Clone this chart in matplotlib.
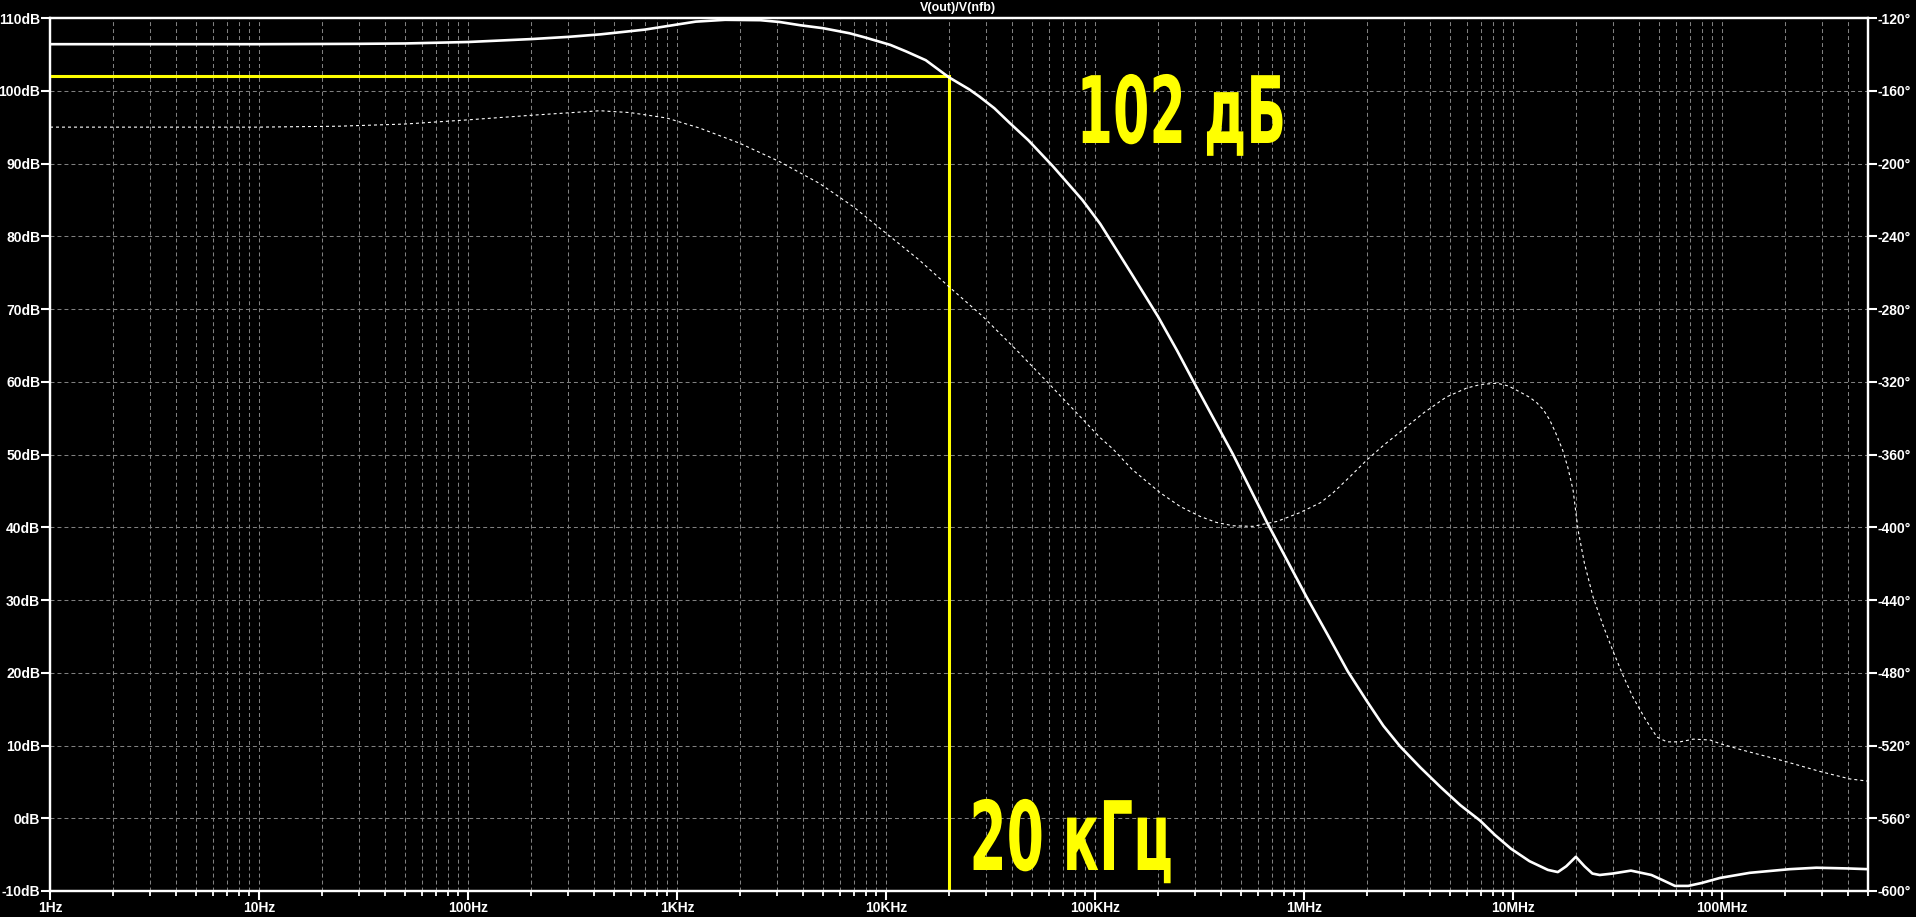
import matplotlib
matplotlib.use("Agg")
import matplotlib.pyplot as plt
from matplotlib.ticker import FixedLocator, FixedFormatter, LogLocator, NullFormatter
from matplotlib.patheffects import AbstractPathEffect
from matplotlib.transforms import Affine2D
from matplotlib.path import Path

# ---------------- data ----------------
title = "V(out)/V(nfb)"

mag_freq = [1, 10, 30, 50, 100, 200, 300, 430, 700, 1000, 1230, 1700, 2500, 3100, 3900,
            5000, 6700, 8000, 10500, 12500, 15500, 20000, 25000, 28000, 33000, 39000,
            48000, 63000, 87000, 106000, 150000, 200000, 247000, 294000, 458000,
            673000, 1.03e6, 1.3e6, 1.62e6, 2e6, 2.4e6, 2.88e6, 3.6e6, 4.5e6, 5.6e6,
            6.95e6, 8.2e6, 9.8e6, 12e6, 14.7e6, 16.4e6, 18e6, 20e6, 22e6, 24e6, 26e6,
            30e6, 36.7e6, 46e6, 52e6, 59.6e6, 69e6, 80e6, 98e6, 136e6, 211e6, 283e6,
            400e6, 500e6]
mag_db = [106.4, 106.4, 106.45, 106.5, 106.7, 107.1, 107.4, 107.75, 108.4, 109.1,
          109.5, 109.75, 109.7, 109.45, 109.0, 108.6, 107.9, 107.3, 106.3, 105.4,
          104.2, 101.85, 100.2, 99.2, 97.6, 95.6, 93.2, 89.6, 85.0, 81.7, 74.8,
          69.0, 64.3, 60.2, 50.0, 40.4, 30.4, 25.2, 20.2, 16.1, 12.7, 9.9, 7.0, 4.3,
          1.8, -0.3, -2.3, -4.2, -5.9, -7.1, -7.4, -6.6, -5.3, -6.6, -7.6, -7.8,
          -7.6, -7.2, -7.8, -8.5, -9.3, -9.3, -8.9, -8.2, -7.5, -7.0, -6.8, -6.9,
          -7.0]

phase_freq = [1, 10, 24, 50, 100, 200, 428, 596, 895, 1290, 2000, 3100, 4800, 6950,
              10000, 14400, 20000, 29000, 42000, 59000, 80000, 106000, 122000, 150000,
              205000, 255000, 318000, 380000, 458000, 570000, 743000, 955000, 1.2e6,
              1.38e6, 1.65e6, 2e6, 2.4e6, 2.93e6, 3.75e6, 4.8e6, 6e6, 7e6, 8.4e6,
              9.5e6, 10.8e6, 12e6, 13e6, 14e6, 15e6, 16e6, 17.3e6, 18.3e6, 19.4e6,
              20.5e6, 22e6, 24.2e6, 27e6, 30e6, 33.5e6, 37.5e6, 43e6, 48.9e6, 54.6e6,
              63e6, 73e6, 88e6, 98e6, 126e6, 196e6, 295e6, 410e6, 500e6]
phase_deg = [-180, -180, -179.5, -178.3, -176, -173.5, -171, -172, -175, -180.6,
             -188.9, -199, -210.9, -223.6, -238.3, -253, -267.7, -284, -302.4, -320,
             -336, -350.8, -357, -368, -381, -388.5, -394, -397.3, -399.2, -399.5,
             -396.8, -392, -386.5, -381, -372.5, -363, -355, -347, -337, -328.4,
             -323.5, -321.5, -320.8, -322.3, -325.6, -328.5, -331.5, -335.5, -341,
             -348, -357.6, -367, -379.6, -401.6, -420, -438.5, -454, -467.6, -481,
             -493.4, -505.5, -515.4, -518, -518, -516.5, -517, -519, -522.6, -528.4,
             -534.3, -538.4, -539.6]

marker_freq = 20000
marker_db = 102
marker_db_text = "102 дБ"
marker_freq_text = "20 кГц"

x_ticks = [1, 10, 100, 1e3, 1e4, 1e5, 1e6, 1e7, 1e8]
x_tick_labels = ["1Hz", "10Hz", "100Hz", "1KHz", "10KHz", "100KHz", "1MHz", "10MHz", "100MHz"]
db_ticks = list(range(-10, 111, 10))
db_tick_labels = [f"{v}dB" for v in db_ticks]
deg_ticks = list(range(-600, -119, 40))
deg_tick_labels = [f"{v}°" for v in deg_ticks]

# ---------------- style ----------------
plt.rcParams["font.family"] = ["Liberation Sans", "DejaVu Sans"]
plt.rcParams["font.weight"] = "bold"

W, H = 1916, 917
GRID = dict(color="#808080", linewidth=0.75, linestyle=(0, (3.8, 2.9)))


class SqueezeX(AbstractPathEffect):
    """Compress the drawn glyph path horizontally to a given ink width (pixels)."""

    def __init__(self, width_px):
        super().__init__()
        self.width_px = width_px

    def draw_path(self, renderer, gc, tpath, affine, rgbFace=None):
        verts = affine.transform(tpath.vertices)
        if tpath.codes is not None:
            verts = verts[(tpath.codes != Path.CLOSEPOLY) & (tpath.codes != Path.STOP)]
        x0, x1 = verts[:, 0].min(), verts[:, 0].max()
        sx = self.width_px / max(x1 - x0, 1e-6)
        squeeze = Affine2D().translate(-x0, 0).scale(sx, 1).translate(x0, 0)
        renderer.draw_path(gc, tpath, affine + squeeze, rgbFace)


fig = plt.figure(figsize=(W / 100, H / 100), dpi=100, facecolor="black")
ax = fig.add_axes([50 / W, 26 / H, 1818 / W, 873 / H], facecolor="black")
ax.set_xscale("log")
ax.set_xlim(1, 5e8)
ax.set_ylim(-10, 110)
ax.set_axisbelow(True)

ax2 = ax.twinx()
ax2.set_ylim(-600, -120)

# ticks
ax.xaxis.set_major_locator(FixedLocator(x_ticks))
ax.xaxis.set_major_formatter(FixedFormatter(x_tick_labels))
ax.xaxis.set_minor_locator(LogLocator(base=10, subs=range(2, 10), numticks=50))
ax.xaxis.set_minor_formatter(NullFormatter())
ax.yaxis.set_major_locator(FixedLocator(db_ticks))
ax.yaxis.set_major_formatter(FixedFormatter(db_tick_labels))
ax2.yaxis.set_major_locator(FixedLocator(deg_ticks))
ax2.yaxis.set_major_formatter(FixedFormatter(deg_tick_labels))

ax.tick_params(axis="x", which="major", direction="out", length=6.5, width=1.5,
               colors="white", pad=1, labelsize=10)
ax.tick_params(axis="x", which="minor", direction="out", length=3.5, width=1.3,
               colors="white")
ax.tick_params(axis="y", which="major", direction="out", length=6.5, width=1.5,
               colors="white", pad=0.5, labelsize=10)
ax2.tick_params(axis="y", which="major", direction="out", length=6.5, width=1.5,
                colors="white", pad=0.5, labelsize=10)

for a in (ax, ax2):
    for s in a.spines.values():
        s.set_color("white")
        s.set_linewidth(1.6)

# grid
ax.grid(which="both", axis="x", **GRID)
ax.grid(which="major", axis="y", **GRID)

# marker lines
ax.plot([ax.get_xlim()[0], marker_freq, marker_freq], [marker_db, marker_db, ax.get_ylim()[0]],
        color="#ffff00", linewidth=2.2, solid_joinstyle="miter", zorder=3)

# magnitude (solid) and phase (dotted)
ax.plot(mag_freq, mag_db, color="white", linewidth=1.9, zorder=4,
        solid_joinstyle="round")
ax2.plot(phase_freq, phase_deg, color="white", linewidth=0.8, linestyle=(0, (2.7, 2.7)))

# title
fig.text(958 / W, 1 - 8 / H, title, ha="center", va="center", color="white", fontsize=9)

# big annotations
fig.text(1072 / W, 1 - 143 / H, marker_db_text, ha="left", va="baseline",
         color="#ffff00", fontsize=67, fontweight="bold", family="DejaVu Sans",
         path_effects=[SqueezeX(200)])
fig.text(966 / W, 1 - 870 / H, marker_freq_text, ha="left", va="baseline",
         color="#ffff00", fontsize=69, fontweight="bold", family="DejaVu Sans",
         path_effects=[SqueezeX(197)])

fig.savefig("out.png", dpi=100, facecolor="black")
